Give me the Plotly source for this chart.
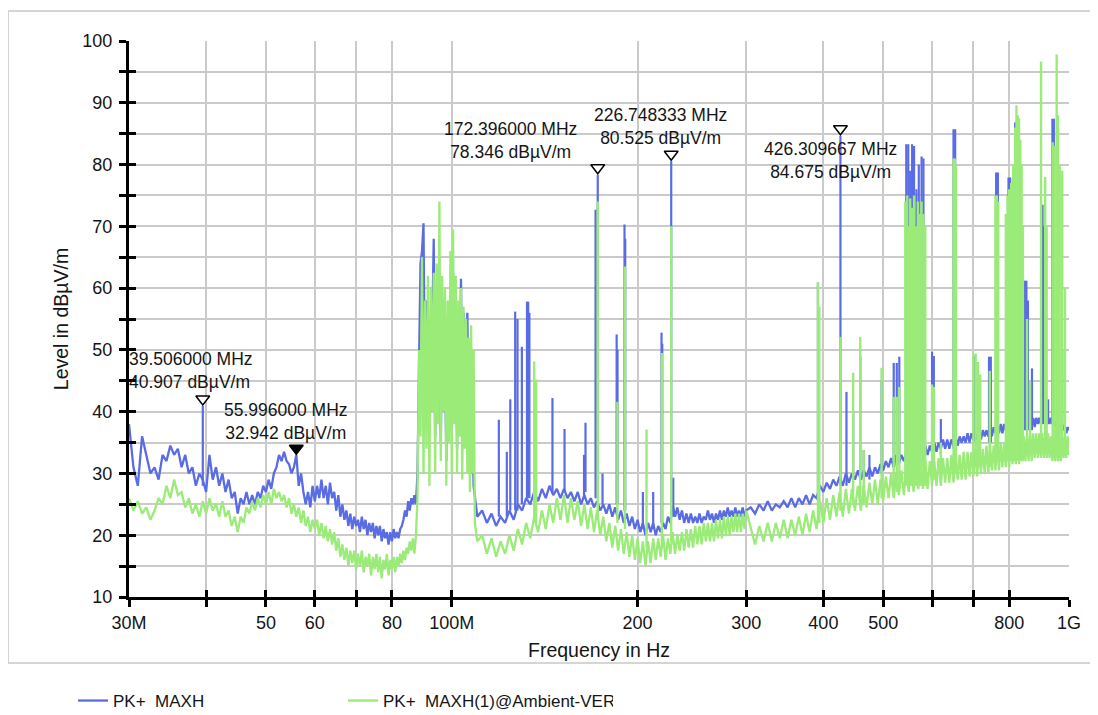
import math
import plotly.graph_objects as go

# ---------------- data (frequencies in MHz, levels in dBuV/m) ----------------
F_A = [30.0, 30.5, 31.0, 31.5, 32.0, 32.5, 33.0, 33.5, 34.0, 34.5,
       35.0, 35.5, 36.0, 36.5, 37.0, 37.5, 38.0, 38.5, 39.0, 39.5,
       40.0, 40.5, 41.0, 41.5, 42.0, 42.5, 43.0, 43.5, 44.0, 44.5,
       45.0, 45.5, 46.0, 46.5, 47.0, 47.5, 48.0, 48.5, 49.0, 49.5,
       50.0, 50.5, 51.0, 51.5, 52.0, 52.5, 53.0, 53.5, 54.0, 54.5,
       55.0, 55.5, 56.0, 56.5, 57.0, 57.5, 58.0, 58.5, 59.0, 59.5,
       60.0, 60.5, 61.0, 61.5, 62.0, 62.5, 63.0, 63.5, 64.0, 64.5,
       65.0, 65.5, 66.0, 66.5, 67.0, 67.5, 68.0, 68.5, 69.0, 69.5,
       70.0, 70.5, 71.0, 71.5, 72.0, 72.5, 73.0, 73.5, 74.0, 74.5,
       75.0, 75.5, 76.0, 76.5, 77.0, 77.5, 78.0, 78.5, 79.0, 79.5,
       80.0, 80.5, 81.0, 81.5, 82.0, 82.5, 83.0, 83.5, 84.0, 84.5,
       85.0, 85.5, 86.0, 86.5, 87.0, 87.5, 88.0]
BLUE_A = [38, 31, 28, 36, 33, 30, 31, 29, 33, 32,
          34.5, 33, 34, 31, 33, 30, 31, 28, 30, 29,
          27, 33, 29, 31, 28, 30, 27, 29, 26, 27,
          23.5, 26, 25, 27, 25, 26.5, 25, 27, 26, 28,
          27, 29, 27.5, 30, 31, 33, 32, 33.5, 32, 31.5,
          30, 31, 33, 28, 30, 27, 25, 27, 24.5, 28,
          25.5, 28, 26, 29, 26, 28, 25, 28.5, 26, 27,
          24, 26.5, 23, 25, 22.5, 24, 21.5, 23.5, 21, 23,
          21.5, 22.5, 20.5, 23, 21, 22.5, 20, 22, 20.5, 22,
          19.5, 21.5, 20, 21.5, 19, 21, 19.5, 20.5, 18.5, 20.5,
          19, 21, 19.5, 20.5, 19.5, 21, 21.5, 22.5, 24, 23,
          25.5, 24, 26, 25, 26.5, 25, 30]
GREEN_A = [26, 24, 25.5, 23.5, 24.5, 22.5, 24, 26, 25, 28,
           26, 29, 26.5, 27, 24.5, 26, 23.5, 25, 23, 25.5,
           23.5, 26, 24, 25, 23, 25.5, 23, 24, 21.5, 23,
           20.5, 23, 22, 24.5, 23.5, 25.5, 24, 26, 24.5, 26.5,
           25, 27, 25, 27.5, 26, 27, 25.5, 26.5, 24.5, 26,
           23.5, 25, 23, 24.5, 22, 24, 21.5, 23, 20.5, 22.5,
           21, 22.5, 20, 22, 19.5, 21.5, 19, 21, 18.5, 20.5,
           17.5, 19.5, 16.5, 18.5, 16, 18, 15, 17.5, 15.5, 17.5,
           14.5, 17, 15, 17.5, 14, 16.5, 15, 17, 13.5, 16.5,
           14.5, 17, 14, 16.5, 13, 16, 14.5, 17, 13.5, 16,
           14.5, 16.5, 14, 16.5, 15, 17, 15.5, 17.5, 16, 18,
           17, 19, 17.5, 19.5, 17, 20, 26]

F_B = [88.5, 89.0, 89.5, 90.0, 90.5, 91.0, 91.5, 92.0, 92.5, 93.0,
       93.5, 94.0, 94.5, 95.0, 95.5, 96.0, 96.5, 97.0, 97.5, 98.0,
       98.5, 99.0, 99.5, 100.0, 100.5, 101.0, 101.5, 102.0, 102.5, 103.0,
       103.5, 104.0, 104.5, 105.0, 105.5, 106.0, 106.5, 107.0, 107.5, 108.0,
       108.5, 109.0, 109.5, 110.0]
BLUE_B = [45, 64, 66, 70.5, 42, 58, 38, 55, 40, 52,
          68, 36, 55, 42, 60, 35, 58, 40, 50, 32,
          55, 38, 57, 45, 62.5, 40, 56, 34, 52, 40,
          61.5, 38, 56, 42, 50, 56, 36, 48, 30, 40,
          28, 26, 24, 23]
GREEN_B = [50, 36, 65, 30, 58, 34, 62, 28, 60, 40,
           62.5, 30, 64, 38, 74, 32, 62, 40, 60, 28,
           58, 35, 66, 30, 69.5, 38, 62, 30, 58, 36,
           60, 29, 57, 34, 55, 30, 52, 27, 54, 30,
           50, 22, 20, 19]

F_C = [112, 114, 116, 118, 120, 122, 124, 126, 128, 130,
       132, 134, 136, 138, 140, 142, 144, 146, 148, 150,
       152, 154, 156, 158, 160, 162, 164, 166, 168, 170,
       172, 174, 176, 178, 180, 182, 184, 186, 188, 190,
       192, 194, 196, 198, 200, 202, 204, 206, 208, 210,
       212, 214, 216, 218, 220, 222, 224, 226, 228, 230,
       232, 234, 236, 238, 240, 242, 244, 246, 248, 250,
       252, 254, 256, 258, 260, 262, 264, 266, 268, 270,
       272, 274, 276, 278, 280, 282, 284, 286, 288, 290,
       292, 294, 296, 298, 300]
BLUE_C = [24, 22, 23.5, 21.5, 23, 22, 24, 22.5, 25, 24,
          26, 25, 27, 25.5, 27.5, 26, 28, 26.5, 27.5, 26,
          27.5, 26, 27, 25.5, 27, 25, 26.5, 25, 26, 24.5,
          25.5, 24, 25, 23.5, 25, 23, 24.5, 22.5, 24, 22,
          23.5, 21.5, 23, 21, 22.5, 20.5, 22, 20, 22, 20.5,
          22, 20, 21.5, 20.5, 22, 21, 23, 22, 25, 23,
          24.5, 22.5, 24, 22, 23.5, 22, 23.5, 22, 23, 22,
          23.5, 22, 23, 22.5, 24, 22.5, 23.5, 22, 23.5, 22.5,
          24, 22.5, 24, 23, 24.5, 23, 24, 23, 24.5, 23,
          24, 23, 24.5, 23, 24]
GREEN_C = [20, 17, 19.5, 16.5, 19, 17, 20, 17.5, 21, 18.5,
           22, 19.5, 23, 20.5, 24, 21, 25, 22, 26, 22.5,
           26.5, 22, 26, 22.5, 25.5, 21.5, 25, 21, 24.5, 20.5,
           24, 20, 23, 19, 22, 18, 21.5, 17.5, 21, 17,
           20.5, 16.5, 20, 16, 19.5, 15.5, 19, 15, 19, 15.5,
           19.5, 16, 19.5, 16.5, 20, 16, 19.5, 17, 20.5, 17,
           20, 17.5, 20.5, 17.5, 21, 18, 21, 18, 21.5, 18.5,
           21.5, 18.5, 22, 19, 22, 19, 22, 19, 22.5, 19.5,
           22.5, 19.5, 23, 20, 23, 20, 23, 20.5, 23.5, 20.5,
           23.5, 20.5, 23.5, 21, 24]

F_D = [305, 310, 315, 320, 325, 330, 335, 340, 345, 350,
       355, 360, 365, 370, 375, 380, 385, 390, 395, 400,
       405, 410, 415, 420, 425, 430, 435, 440, 445, 450,
       455, 460, 465, 470, 475, 480, 485, 490, 495, 500,
       505, 510, 515, 520, 525, 530, 535, 540, 545, 550,
       555, 560, 565, 570, 575, 580, 585, 590, 595, 600,
       605, 610, 615, 620, 625, 630, 635, 640, 645, 650,
       655, 660, 665, 670, 675, 680, 685, 690, 695, 700,
       705, 710, 715, 720, 725, 730, 735, 740, 745, 750,
       755, 760, 765, 770, 775, 780, 785, 790, 795, 800,
       805, 810, 815, 820, 825, 830, 835, 840, 845, 850,
       855, 860, 865, 870, 875, 880, 885, 890, 895, 900,
       905, 910, 915, 920, 925, 930, 935, 940, 945, 950,
       955, 960, 965, 970, 975, 980, 985, 990, 995, 1000]
BLUE_D = [24.5, 23.5, 25, 24, 25.5, 24, 25, 24.5, 25.5, 24.5,
          26, 24.5, 26, 25, 26.5, 25, 26.5, 26, 28, 27,
          28.5, 27.5, 29, 28, 29.5, 28, 30, 28.5, 30, 29,
          30.5, 29, 30.5, 29.5, 31, 29.5, 31, 30, 31.5, 30.5,
          32, 31, 32.5, 31, 33, 31.5, 33, 32, 33.5, 32,
          34, 32.5, 34, 32.5, 34, 33, 34.5, 33, 34.5, 33.5,
          35, 33.5, 35, 34, 35.5, 34, 35.5, 34, 35.5, 34.5,
          36, 34.5, 36, 35, 36, 35, 36.5, 35, 36.5, 35.5,
          36.5, 35.5, 37, 35.5, 37, 36, 37, 36, 37.5, 36,
          37.5, 36.5, 37.5, 36.5, 38, 36.5, 38, 37, 38, 37,
          38, 37, 38.5, 37, 38.5, 37.5, 38.5, 37.5, 38.5, 37.5,
          38.5, 37.5, 39, 37.5, 39, 37.5, 39, 38, 39, 38,
          39, 38, 39, 38, 39, 38, 39, 38, 38.5, 37.5,
          38.5, 37.5, 38, 37, 38, 37, 37.5, 36.5, 37.5, 37]
GREEN_D = [21, 18.5, 21.5, 19, 22, 19, 22, 19.5, 22.5, 19.5,
           22.5, 20, 23, 20, 23.5, 20.5, 24, 21, 25.5, 22,
           26, 22.5, 26.5, 23, 27, 23, 27.5, 23.5, 27.5, 24,
           28, 24, 28, 24.5, 28.5, 25, 29, 25, 29, 25.5,
           29.5, 26, 30, 26, 30, 26.5, 30.5, 26.5, 31, 27,
           31, 27, 31.5, 27.5, 31.5, 27.5, 32, 27.5, 32, 28,
           32, 28, 32.5, 28, 32.5, 28.5, 32.5, 28.5, 33, 28.5,
           33, 29, 33, 29, 33.5, 29, 33.5, 29.5, 33.5, 29.5,
           34, 29.5, 34, 30, 34, 30, 34.5, 30, 34.5, 30.5,
           34.5, 30.5, 35, 30.5, 35, 31, 35, 31, 35.5, 31,
           35.5, 31.5, 35.5, 31.5, 36, 31.5, 36, 32, 36, 32,
           36, 32, 36.5, 32, 36.5, 32.5, 36.5, 32.5, 36.5, 32.5,
           36.5, 32.5, 36.5, 32.5, 36.5, 32.5, 36, 32, 36, 32,
           36, 32, 36, 32, 36, 32.5, 36, 32.5, 36, 33]

# narrow emissions: frequency, top level, floor level
BLUE_SPIKE_F = [39.506, 119.2, 122.8, 124.4, 126.7, 127.8, 129.9, 132.4, 133.0, 133.6,
                145.6, 152.3, 163.8, 164.7, 171.0, 172.396, 175.5, 185.0, 185.6, 190.5,
                191.0, 204, 212, 218.7, 219.3, 226.748333, 228.5,
                392, 426.309667, 436, 447, 459, 465, 475, 497, 520, 526,
                531, 545, 549, 553, 557, 561, 566, 571, 577, 581,
                600, 604, 620, 650, 654, 703, 712, 742, 747, 762,
                767, 798, 803, 818, 823, 828, 834, 848, 853, 858,
                871, 906, 910, 925, 940, 945, 975]
BLUE_SPIKE_TOP = [40.907, 38.7, 33.5, 42, 56.2, 55.0, 50.5, 57.8, 57.8, 56,
                  42.2, 37.2, 33, 38.2, 72.7, 78.346, 30, 52.5, 50, 70.3,
                  68, 27, 27, 52.8, 51, 80.525, 29.3,
                  60.9, 84.675, 43.2, 40, 48.9, 33.8, 33, 45, 47.9, 47.9,
                  48.9, 83.3, 83.3, 79, 83.3, 83, 76, 80, 81.3, 81,
                  49.7, 49, 38.8, 85.7, 85.7, 49, 48, 48.9, 48.9, 78.7,
                  78.7, 77.9, 77.9, 86.8, 86.8, 86, 80, 61.2, 61.2, 58,
                  47, 73.5, 70, 42, 87.4, 87.4, 50]
BLUE_SPIKE_BASE = [28, 23, 23, 24, 24, 24, 25, 26, 26, 26,
                   27, 27, 26, 27, 26, 26, 25, 25, 25, 24,
                   24, 21, 21, 22, 22, 23, 23,
                   26, 28, 28, 29, 29, 29, 29, 30, 31, 31,
                   32, 32, 32, 32, 32, 32, 32, 32, 32, 32,
                   33, 33, 33, 34, 34, 35, 35, 35, 35, 36,
                   36, 36, 36, 37, 37, 37, 37, 37, 37, 37,
                   37, 38, 38, 38, 38, 38, 37]

GREEN_SPIKE_F = [136.0, 137.0, 172.4, 185.5, 190.8, 206.8, 219.0, 226.75,
                 392, 394, 426.3, 447, 459, 465, 497, 520, 526, 531,
                 543, 547, 550, 553, 557, 561, 565, 569, 573, 577, 581, 585,
                 600, 604, 620, 650, 653, 656, 700, 706, 712, 718, 744,
                 760, 764, 768, 790, 795, 800, 806, 812, 818, 822, 826,
                 830, 834, 838, 842, 855, 865, 901, 915, 920, 941,
                 948, 955, 960, 966, 975, 985]
GREEN_SPIKE_TOP = [48.1, 45.2, 74.0, 41.6, 63.5, 37.1, 49.5, 70,
                   60.9, 57, 52.1, 46.3, 52.1, 33.8, 47.1, 42.4, 42.4, 44,
                   74, 75, 70, 74.5, 73, 75, 70, 74, 72, 74, 72, 70,
                   44.4, 44, 35, 81, 81, 80, 49.4, 49.4, 48, 46, 46.6,
                   75, 75, 74, 72, 75, 76, 77, 80, 86, 89.6, 88,
                   87.5, 84, 80, 70, 55, 45, 96.7, 78, 70, 83.6,
                   83, 97.8, 88, 80, 79, 60]
GREEN_SPIKE_BASE = [22, 22, 23, 22, 21, 18, 18, 19,
                    22, 22, 24, 25, 25, 25, 26, 27, 27, 27,
                    28, 28, 28, 28, 28, 28, 28, 28, 28, 28, 28, 28,
                    29, 29, 29, 30, 30, 30, 31, 31, 31, 31, 31,
                    32, 32, 32, 32, 32, 32, 32, 32, 32, 32, 32,
                    32, 32, 32, 32, 33, 33, 33, 33, 33, 33,
                    33, 33, 33, 33, 33, 33]

# markers
MARKER_F = [39.506, 55.996, 172.396, 226.748333, 426.309667]
MARKER_L = [40.907, 32.942, 78.346, 80.525, 84.675]
MARKER_FILLED = [False, True, False, False, False]

Y_TICKS = [10, 15, 20, 25, 30, 35, 40, 45, 50, 55, 60, 65, 70, 75, 80, 85, 90, 95, 100]
Y_LABELS = ["10", "", "20", "", "30", "", "40", "", "50", "", "60", "", "70", "", "80", "", "90", "", "100"]
X_TICKS = [30, 40, 50, 60, 70, 80, 100, 200, 300, 400, 500, 600, 700, 800, 1000]
X_LABELS = ["30M", "", "50", "60", "", "80", "100M", "200", "300", "400", "500", "", "", "800", "1G"]

SERIES_NAMES = ["PK+  MAXH", "PK+  MAXH(1)@Ambient-VER"]

# ---------------- styling ----------------
FONT = "Liberation Sans, Arial, Helvetica, sans-serif"
BLUE = "#5a6ce4"
GREEN = "#9aeb78"
GRID = "#cacaca"
INK = "#151515"

for a, b in [(F_A, BLUE_A), (F_A, GREEN_A), (F_B, BLUE_B), (F_B, GREEN_B),
             (F_C, BLUE_C), (F_C, GREEN_C), (F_D, BLUE_D), (F_D, GREEN_D)]:
    assert len(a) == len(b), (len(a), len(b))
assert len(BLUE_SPIKE_F) == len(BLUE_SPIKE_TOP) == len(BLUE_SPIKE_BASE)
assert len(GREEN_SPIKE_F) == len(GREEN_SPIKE_TOP) == len(GREEN_SPIKE_BASE)

freq = F_A + F_B + F_C + F_D
blue = BLUE_A + BLUE_B + BLUE_C + BLUE_D
green = GREEN_A + GREEN_B + GREEN_C + GREEN_D


def spikes(fs, tops, bases):
    xs, ys = [], []
    for f, t, b in zip(fs, tops, bases):
        xs += [f, f, None]
        ys += [b, t, None]
    return xs, ys


fig = go.Figure()
fig.add_trace(go.Scatter(x=freq, y=blue, mode="lines", name=SERIES_NAMES[0],
                         legendgroup="b", line=dict(color=BLUE, width=2.3)))
bx, by = spikes(BLUE_SPIKE_F, BLUE_SPIKE_TOP, BLUE_SPIKE_BASE)
fig.add_trace(go.Scatter(x=bx, y=by, mode="lines", legendgroup="b", showlegend=False,
                         line=dict(color=BLUE, width=2.2)))
fig.add_trace(go.Scatter(x=freq, y=green, mode="lines", name=SERIES_NAMES[1],
                         legendgroup="g", line=dict(color=GREEN, width=2.3)))
gx, gy = spikes(GREEN_SPIKE_F, GREEN_SPIKE_TOP, GREEN_SPIKE_BASE)
fig.add_trace(go.Scatter(x=gx, y=gy, mode="lines", legendgroup="g", showlegend=False,
                         line=dict(color=GREEN, width=2.4)))

fig.add_trace(go.Scatter(
    x=MARKER_F, y=MARKER_L, mode="markers", showlegend=False, hoverinfo="x+y",
    marker=dict(symbol="triangle-up", angle=180, size=12, standoff=7,
                color=["black" if f else "white" for f in MARKER_FILLED],
                line=dict(color="black", width=1.5))))

# dummy trace for the overlay axes (inner half of the crossing ticks)
fig.add_trace(go.Scatter(x=[None], y=[None], xaxis="x2", yaxis="y2", showlegend=False,
                         hoverinfo="skip"))

# marker labels (offsets in px)
LABEL_SHIFT = [(-76, 36, "left"), (-10, 34, "center"), (-87, 34, "center"),
               (-11, 35, "center"), (-10, -25, "center")]
for f, l, (dx, dy, anc) in zip(MARKER_F, MARKER_L, LABEL_SHIFT):
    fig.add_annotation(x=math.log10(f), y=l, xref="x", yref="y",
                       text=f"{f:.6f} MHz<br>{l:.3f} dBµV/m",
                       showarrow=False, xanchor=anc, yanchor="middle", align=anc,
                       xshift=dx, yshift=dy,
                       font=dict(family=FONT, size=17.5, color=INK))

# page is offset 8px by the browser's body margin; layout is given in figure px
W, H = 1098, 715
L, R, T, B = 121, 37, 33, 126
pw, ph = W - L - R, H - T - B


def px(x):
    return (x - L) / pw


def py(y):
    return (H - B - y) / ph


fig.add_shape(type="rect", xref="paper", yref="paper",
              x0=px(0), x1=px(1120), y0=py(655), y1=py(3),
              line=dict(color="#c8c8c8", width=1.5), fillcolor="rgba(0,0,0,0)", layer="below")

axis_common = dict(showline=True, linecolor="black", linewidth=3, ticks="outside",
                   ticklen=7, tickwidth=3, tickcolor="black", zeroline=False,
                   showgrid=True, gridcolor=GRID, gridwidth=2,
                   tickfont=dict(family=FONT, size=18, color=INK))

fig.update_layout(
    width=W, height=H, margin=dict(l=L, r=R, t=T, b=B),
    paper_bgcolor="white", plot_bgcolor="white",
    font=dict(family=FONT, color=INK),
    xaxis=dict(type="log", range=[math.log10(30), math.log10(1000)],
               tickmode="array", tickvals=X_TICKS, ticktext=X_LABELS,
               title=dict(text="Frequency in Hz", font=dict(family=FONT, size=19.5), standoff=12),
               **axis_common),
    yaxis=dict(range=[10, 100], tickmode="array", tickvals=Y_TICKS, ticktext=Y_LABELS,
               ticklabelstandoff=3,
               title=dict(text="Level in dBµV/m", font=dict(family=FONT, size=19.5), standoff=9),
               **axis_common),
    xaxis2=dict(type="log", range=[math.log10(30), math.log10(1000)], overlaying="x",
                anchor="y2", tickmode="array", tickvals=X_TICKS,
                ticktext=[""] * len(X_TICKS), ticks="inside", ticklen=7, tickwidth=3,
                tickcolor="black", showgrid=False, showline=False, zeroline=False),
    yaxis2=dict(range=[10, 100], overlaying="y", anchor="x2", tickmode="array",
                tickvals=Y_TICKS, ticktext=[""] * len(Y_TICKS), ticks="inside",
                ticklen=7, tickwidth=3, tickcolor="black", showgrid=False,
                showline=False, zeroline=False),
    legend=dict(orientation="h", x=px(65), xanchor="left", xref="paper",
                y=(H - 693) / H, yanchor="middle", yref="container",
                font=dict(family=FONT, size=17, color=INK),
                entrywidth=225, entrywidthmode="pixels", bgcolor="rgba(0,0,0,0)"),
    showlegend=True,
)

fig.write_html("out.html")
